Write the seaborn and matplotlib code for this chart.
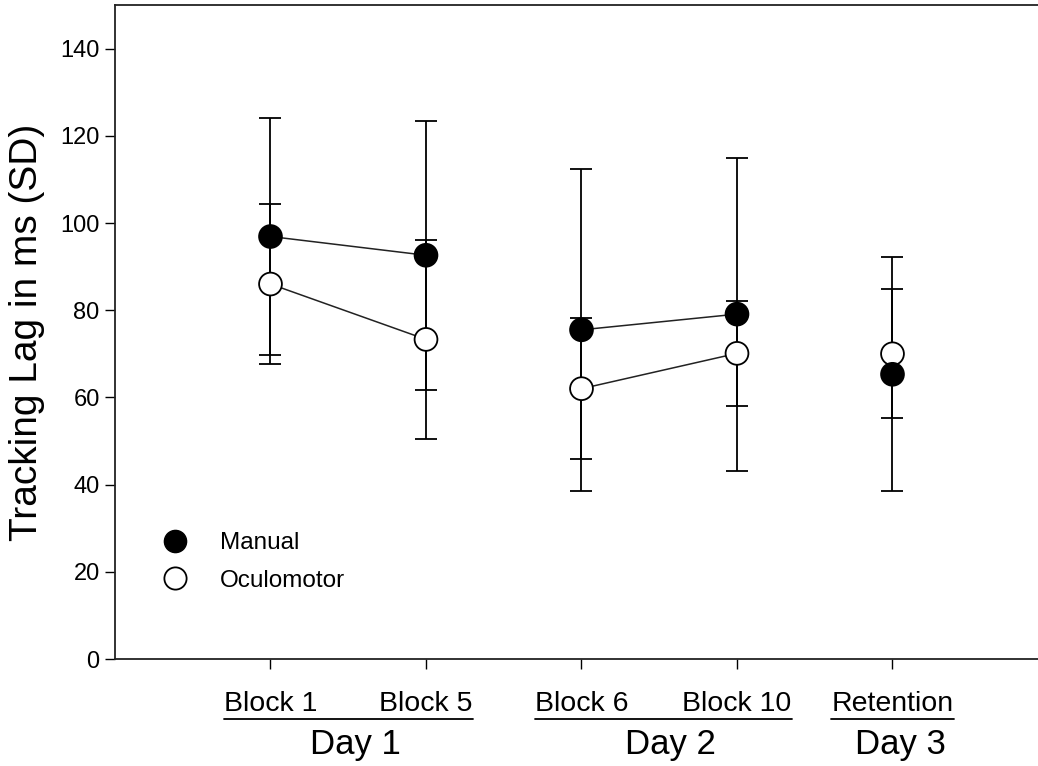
import matplotlib
matplotlib.use("Agg")
import matplotlib.pyplot as plt
from matplotlib.lines import Line2D
import seaborn as sns
import pandas as pd


# ---------------------------------------------------
# Data
# ---------------------------------------------------

positions = [1, 2, 3, 4, 5]
block_labels = ["Block 1", "Block 5", "Block 6", "Block 10", "Retention"]
day_labels = ["Day 1", "Day 1", "Day 2", "Day 2", "Day 3"]

manual_mean = [96.9, 92.6, 75.5, 79.1, 65.3]
manual_sd = [27.2, 30.8, 36.9, 35.9, 26.8]

oculo_mean = [86.0, 73.3, 62.0, 70.1, 70.0]
oculo_sd = [18.3, 22.9, 16.1, 12.0, 14.8]

yticks = [0, 20, 40, 60, 80, 100, 120, 140]


# ---------------------------------------------------
# Long table (oculomotor first so manual sits on top)
# ---------------------------------------------------

df = pd.concat([
    pd.DataFrame({"pos": positions, "mean": oculo_mean, "sd": oculo_sd,
                  "day": day_labels, "condition": "Oculomotor"}),
    pd.DataFrame({"pos": positions, "mean": manual_mean, "sd": manual_sd,
                  "day": day_labels, "condition": "Manual"}),
], ignore_index=True)


# ---------------------------------------------------
# Figure
# ---------------------------------------------------

sns.set_style("ticks")
plt.rcParams["font.family"] = ["Liberation Sans", "DejaVu Sans"]
plt.rcParams["text.color"] = "black"
plt.rcParams["axes.labelcolor"] = "black"

fig = plt.figure(figsize=(10.38, 7.66), dpi=100)
ax = fig.add_axes([115 / 1038, 107 / 766, 933 / 1038, 654 / 766])

# error bars
ax.errorbar(df["pos"], df["mean"], yerr=df["sd"], fmt="none",
            ecolor="black", elinewidth=1.3, capsize=8, capthick=1.3, zorder=2)

# connecting lines within each day
sns.lineplot(data=df, x="pos", y="mean", hue="condition", units="day",
             estimator=None, palette={"Manual": "#222222", "Oculomotor": "#222222"},
             linewidth=1.1, legend=False, ax=ax, zorder=2)

# markers
sns.scatterplot(data=df, x="pos", y="mean", hue="condition",
                palette={"Manual": "black", "Oculomotor": "white"},
                edgecolor="black", linewidth=1.3, s=270, legend=False,
                ax=ax, zorder=3)

ax.set_xlim(0, 6)
ax.set_ylim(0, 150)
ax.set_yticks(yticks)
ax.set_xticks(positions, block_labels)
ax.tick_params(axis="y", direction="out", length=7, width=1, pad=4,
               labelsize=17, colors="black")
ax.tick_params(axis="x", direction="out", length=7, width=1, pad=16,
               labelsize=20.5, colors="black")

ax.set_xlabel("")
ax.set_ylabel("Tracking Lag in ms (SD)", fontsize=28)
ax.yaxis.set_label_coords(-0.075, 0.5)

for side in ["left", "bottom", "top"]:
    ax.spines[side].set_linewidth(1.3)
    ax.spines[side].set_color("#222222")
ax.spines["right"].set_visible(False)

# legend
handles = [
    Line2D([], [], linestyle="none", marker="o", markersize=16,
           markerfacecolor="black", markeredgecolor="black"),
    Line2D([], [], linestyle="none", marker="o", markersize=16,
           markerfacecolor="white", markeredgecolor="black", markeredgewidth=1.3),
]
ax.legend(handles, ["Manual", "Oculomotor"], loc="upper left",
          bbox_to_anchor=(0.045, 0.194), frameon=False, fontsize=17.5,
          handlelength=1.5, handletextpad=1.1, labelspacing=0.65,
          borderpad=0, borderaxespad=0, labelcolor="black")


# ---------------------------------------------------
# Day grouping: underline + day label
# ---------------------------------------------------

fig.canvas.draw()
to_axes = ax.transAxes.inverted()
labels = ax.get_xticklabels()

for day in ["Day 1", "Day 2", "Day 3"]:
    idx = [i for i, d in enumerate(day_labels) if d == day]
    left = labels[idx[0]].get_window_extent()
    right = labels[idx[-1]].get_window_extent()
    x0 = to_axes.transform((left.x0, 0))[0]
    x1 = to_axes.transform((right.x1, 0))[0]
    ax.plot([x0, x1], [-0.091, -0.091], transform=ax.transAxes,
            color="black", linewidth=1.3, clip_on=False)
    ax.text((x0 + x1) / 2 + 0.008, -0.106, day, transform=ax.transAxes,
            ha="center", va="top", fontsize=25)

fig.savefig("out.png", dpi=100)
plt.close(fig)
